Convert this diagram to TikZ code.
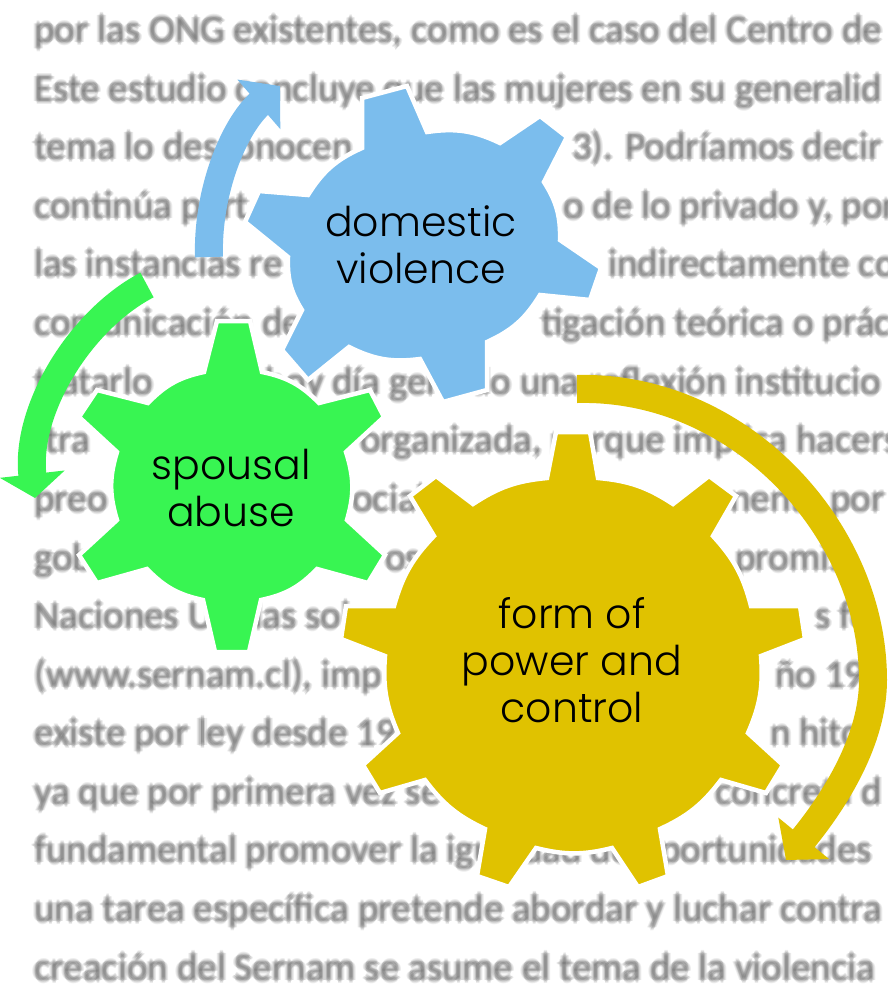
\documentclass[tikz,border=0pt]{standalone}
\usepackage{fontspec}
\setmainfont{Poppins}[UprightFont={* Light}]
\newfontfamily\pagefont{Carlito}
\usetikzlibrary{arrows.meta,positioning}
\definecolor{gearblue}{HTML}{7BBDED}
\definecolor{geargreen}{HTML}{38F552}
\definecolor{geargold}{HTML}{E0C200}

\begin{document}
\begin{tikzpicture}[x=1pt, y=-1pt,
        page text/.style={anchor=base west, inner sep=0pt, text=black!60, opacity=0.12, font=\pagefont\fontsize{39}{39}\selectfont},
        gear/.style={draw=white, line width=4.5pt, line join=miter, bend angle=17},
        gear label/.style={align=center, text=black, font=\fontsize{41}{47}\selectfont},
        turn/.style={line width=28pt}]
    \clip (0,0) rectangle (887,986);
    \fill [white] (0,0) rectangle (887,986);

    % scanned page behind the gears
    \foreach \xx/\yy/\txt [count=\i] in {
        34/42/{por las ONG existentes, como es el caso del Centro de},
        34/101/{Este estudio concluye que las mujeres en su generalid},
        34/159/{tema lo desconocen}, 572/159/{3). Podríamos decir (},
        34/218/{continúa port}, 563/218/{o de lo privado y, por},
        34/276/{las instancias re}, 608/276/{indirectamente co},
        34/335/{comunicación de}, 541/335/{tigación teórica o práctic},
        34/394/{tratarlo}, 265/394/{hoy día gen}, 470/394/{do una reflexión institucio},
        45/452/{tra}, 360/452/{organizada, porque implica hacerse},
        34/511/{preo}, 352/511/{ocial}, 730/511/{nenta por},
        34/570/{gob}, 385/570/{os}, 735/570/{promis},
        34/628/{Naciones Unidas sol}, 815/628/{s fo},
        34/687/{(www.sernam.cl), imp}, 775/687/{ño 19},
        34/745/{existe por ley desde 19}, 770/745/{n hito},
        34/804/{ya que por primera vez se}, 715/804/{concreta d},
        34/862/{fundamental promover la igualdad de oportunidades},
        34/921/{una tarea  específica pretende abordar y luchar contra},
        34/980/{creación del Sernam se asume el tema de la violencia}} {
        \foreach \dx/\dy in {0/0,-2/0,2/0,0/-2,0/2,-1/-1,1/1,-1/1,1/-1,-3/0,3/0,0/-3,0/3}
            \node [page text] (pageline\i) at (\xx+\dx,\yy+\dy) {\txt};
    }

    % gears
    \draw [gear, fill=gearblue] (362,98) -- (407,86) -- (427,132) to[bend left] (500,143)
        -- (540,116) -- (567,137) -- (544,182) to[bend left] (560,240)
        -- (601,268) -- (590,300) -- (540,295) to[bend left] (487,342)
        -- (487,390) -- (443,402) -- (420,359) to[bend left] (349,347)
        -- (308,380) -- (282,350) -- (302,310) to[bend left] (288,257)
        -- (245,222) -- (259,191) -- (308,195) to[bend left] (362,148) -- cycle;
    \draw [gear, fill=geargreen] (217,321) -- (250,321) -- (262,372) to[bend left] (319,403)
        -- (370,390) -- (384,417) -- (346,452) to[bend left] (347,520)
        -- (385,555) -- (368,583) -- (317,569) to[bend left] (261,600)
        -- (249,652) -- (215,652) -- (203,600) to[bend left] (147,569)
        -- (97,583) -- (79,555) -- (117,520) to[bend left] (117,452)
        -- (79,417) -- (97,390) -- (148,403) to[bend left] (204,372) -- cycle;
    \draw [gear, fill=geargold, bend angle=14] (556,432) -- (590,432) -- (598,478) to[bend left] (673,504)
        -- (709,476) -- (736,496) -- (713,536) to[bend left] (751,606)
        -- (800,606) -- (805,639) -- (761,656) to[bend left] (748,733)
        -- (783,765) -- (766,793) -- (721,780) to[bend left] (660,829)
        -- (668,876) -- (638,887) -- (612,848) to[bend left] (536,848)
        -- (509,887) -- (477,876) -- (485,829) to[bend left] (425,780)
        -- (380,793) -- (363,765) -- (398,733) to[bend left] (385,656)
        -- (341,639) -- (346,606) -- (394,606) to[bend left] (434,536)
        -- (410,496) -- (436,476) -- (473,504) to[bend left] (547,478) -- cycle;

    \node [gear label] (violence) at (421,245) {domestic\\violence};
    \node [gear label] (abuse) at (231,488) {spousal\\abuse};
    \node [gear label] (power) at (572,660) {form of\\power and\\control};

    % arrows round the gears
    \coordinate (bluetail) at (209,257);
    \coordinate (bluetip) at (280,86);
    \coordinate (greentail) at (147,285);
    \coordinate (greentip) at (35,498);
    \coordinate (goldtail) at (577,389);
    \coordinate (goldmid) at (873,680);
    \coordinate (goldtip) at (786,860);
    \draw [turn, gearblue, -{Triangle[width=64pt,length=28pt]}] (bluetail)
        .. controls (207,190) and (235,125) .. (bluetip);
    \draw [turn, geargreen, -{Triangle[width=64pt,length=24pt]}] (greentail)
        .. controls (80,320) and (25,410) .. (greentip);
    \draw [turn, geargold, -{Triangle[width=64pt,length=28pt]}] (goldtail)
        .. controls (740,385) and (873,530) .. (goldmid)
        .. controls (873,740) and (835,800) .. (goldtip);
\end{tikzpicture}
\end{document}
